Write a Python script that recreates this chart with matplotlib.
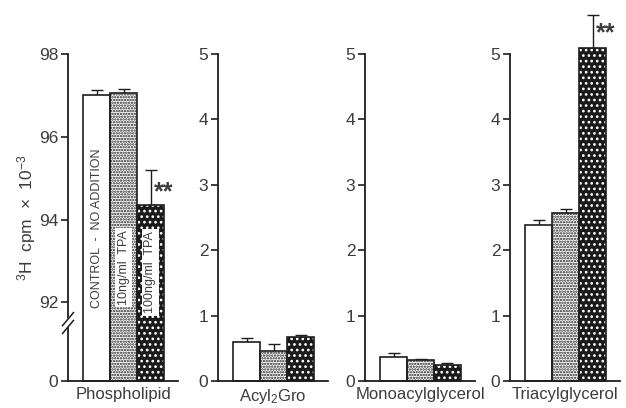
import numpy as np
import matplotlib
matplotlib.use("Agg")
from matplotlib import pyplot as plt

plt.rcParams['font.family'] = ['Liberation Sans', 'DejaVu Sans']
plt.rcParams['mathtext.fontset'] = 'custom'
plt.rcParams['mathtext.rm'] = 'Liberation Sans'
plt.rcParams['mathtext.it'] = 'Liberation Sans:italic'
plt.rcParams['hatch.linewidth'] = 1.15

TEXT = '#3c3c3c'
INK = '#1e1e1e'

# lipid classes, one panel each
lipids = ['Phospholipid', r'Acyl$_2$Gro', 'Monoacylglycerol', 'Triacylglycerol']
treatments = ['CONTROL  -  NO ADDITION', '10ng/ml  TPA', '100ng/ml  TPA']

# 3H cpm x 10^-3 (mean) and upper error (SE)
phospholipid = [97.0, 97.05, 94.35]
phospholipid_err = [0.12, 0.1, 0.85]
acyl2gro = [0.60, 0.46, 0.67]
acyl2gro_err = [0.06, 0.1, 0.03]
monoacyl = [0.37, 0.32, 0.24]
monoacyl_err = [0.06, 0.02, 0.04]
triacyl = [2.38, 2.57, 5.09]
triacyl_err = [0.08, 0.06, 0.50]

values = [phospholipid, acyl2gro, monoacyl, triacyl]
errors = [phospholipid_err, acyl2gro_err, monoacyl_err, triacyl_err]
stars = [(2, 94.67), None, None, (2, 5.31)]

# broken y-scale for the phospholipid panel: 0..91.5 squeezed
BREAK = 91.5
SQUEEZE = 1.4


def fwd(y):
    y = np.asarray(y, dtype=float)
    return np.where(y <= BREAK, y * SQUEEZE / BREAK, SQUEEZE + (y - BREAK))


def inv(t):
    t = np.asarray(t, dtype=float)
    return np.where(t <= SQUEEZE, t * BREAK / SQUEEZE, t - SQUEEZE + BREAK)


W, H = 626, 408
fig = plt.figure(figsize=(W / 100, H / 100), dpi=100)
lefts = [68, 218, 365, 510]
axw = 110
base = 381
top = 54

x = np.arange(3)
faces = ['white', 'white', '#1a1a1a']
hatches = [None, '......', '...']
hcolors = [None, INK, 'white']

for k in range(4):
    ax = fig.add_axes([lefts[k] / W, (H - base) / H, axw / W, (base - top) / H])
    if k == 0:
        ax.set_yscale('function', functions=(fwd, inv))
        ax.set_ylim(0, 98)
        ax.set_yticks([0, 92, 94, 96, 98])
    else:
        ax.set_ylim(0, 5)
        ax.set_yticks([0, 1, 2, 3, 4, 5])
    ax.set_xlim(-0.5 - 15 / 27, -0.5 - 15 / 27 + axw / 27)

    for i in range(3):
        # fill + hatch first, then a plain outline on top
        ax.bar(x[i], values[k][i], width=1.0, color=faces[i], hatch=hatches[i],
               edgecolor=hcolors[i] if hatches[i] else faces[i], linewidth=0,
               clip_on=False, zorder=2)
        ax.bar(x[i], values[k][i], width=1.0, fill=False, edgecolor=INK,
               linewidth=1.2, clip_on=False, zorder=3)
    ax.errorbar(x, values[k], yerr=[np.zeros(3), errors[k]], fmt='none',
                ecolor=INK, elinewidth=1.0, capsize=4, capthick=1.0,
                clip_on=False, zorder=1)
    if stars[k] is not None:
        ax.text(stars[k][0] + 0.13, stars[k][1], '**', fontsize=18,
                fontweight='bold', color=TEXT, va='center', ha='left')

    for s in ['top', 'right']:
        ax.spines[s].set_visible(False)
    for s in ['left', 'bottom']:
        ax.spines[s].set_linewidth(1.3)
        ax.spines[s].set_color(INK)
    ax.tick_params(axis='y', direction='out', length=5, width=1.2, color=INK,
                   labelsize=12.5, labelcolor=TEXT, pad=2)
    ax.tick_params(axis='x', length=0, labelbottom=False)
    ax.set_xlabel(lipids[k], fontsize=12, color=TEXT, labelpad=4)

    if k == 0:
        ax.set_ylabel(r'$^3$H  cpm  $\times$  10$^{-3}$', fontsize=12.5,
                      color=TEXT, va='center')
        ax.yaxis.set_label_coords(-0.38, 0.5)
        # treatment labels written up the bars
        ax.text(0, 93.78, treatments[0], rotation=90, fontsize=9,
                color=TEXT, ha='center', va='center', zorder=4)
        for i, yc in [(1, 92.84), (2, 92.72)]:
            ax.text(i, yc, treatments[i], rotation=90, fontsize=9,
                    color=TEXT, ha='center', va='center', zorder=4,
                    bbox=dict(facecolor='white', edgecolor='none', pad=1.5))
        # axis break marks
        yb = fwd(BREAK) / fwd(98)
        ax.plot([-0.02, 0.02], [yb - 0.005, yb + 0.01], transform=ax.transAxes,
                color='white', lw=4, clip_on=False, zorder=5)
        for dy in (-0.012, 0.012):
            ax.plot([-0.05, 0.05], [yb + dy - 0.02, yb + dy + 0.02],
                    transform=ax.transAxes, color=INK, lw=1.1,
                    clip_on=False, zorder=6)

fig.savefig('out.png', dpi=100)
